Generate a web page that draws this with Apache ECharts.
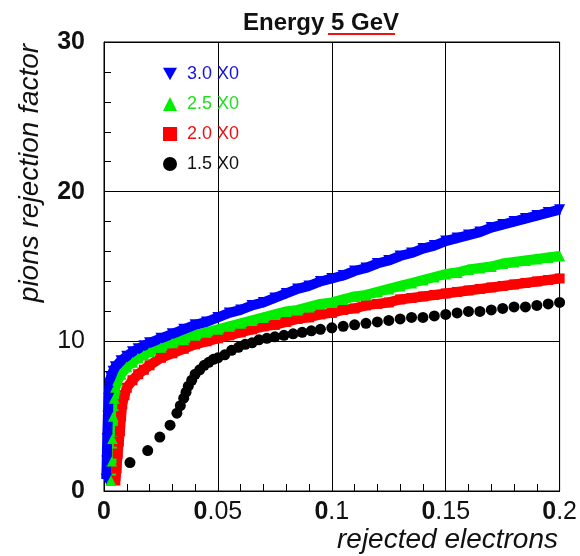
<!DOCTYPE html>
<html>
<head>
<meta charset="utf-8">
<script src="https://cdn.jsdelivr.net/npm/echarts@6/dist/echarts.min.js"></script>
<style>
html,body{margin:0;padding:0;background:#fff;}
#chart{width:580px;height:556px;}
</style>
</head>
<body>
<div id="chart"></div>
<script>
var titleText = 'Energy 5 GeV';
var xTitle = 'rejected electrons';
var yTitle = 'pions rejection factor';
var xTickLabels = ['0', '0.05', '0.1', '0.15', '0.2'];
var yTickLabels = ['0', '10', '20', '30'];
var seriesNames = ['3.0 X0', '2.5 X0', '2.0 X0', '1.5 X0'];

var blue30 = [[0.001,0.8],[0.0012,2],[0.0014,3.5],[0.0017,5],[0.002,6.2],[0.0025,7.2],[0.003,7.6],[0.004,8.0],[0.005,8.3],[0.0075,8.7],[0.01,9.0],[0.0125,9.3],[0.015,9.5],[0.0175,9.7],[0.02,9.9],[0.025,10.2],[0.03,10.5],[0.035,10.8],[0.04,11.1],[0.045,11.3],[0.05,11.6],[0.055,11.9],[0.06,12.1],[0.065,12.4],[0.07,12.6],[0.075,12.9],[0.08,13.2],[0.085,13.5],[0.09,13.7],[0.095,14.0],[0.1,14.2],[0.105,14.4],[0.11,14.7],[0.115,14.9],[0.12,15.2],[0.125,15.4],[0.13,15.7],[0.135,15.9],[0.14,16.2],[0.145,16.4],[0.15,16.7],[0.155,16.9],[0.16,17.1],[0.165,17.3],[0.17,17.6],[0.175,17.8],[0.18,18.0],[0.185,18.2],[0.19,18.4],[0.195,18.6],[0.2,18.8]];
var green25 = [[0.003,0.7],[0.0033,2],[0.0036,3.5],[0.004,5],[0.0045,6.2],[0.005,6.9],[0.006,7.4],[0.0075,7.8],[0.01,8.3],[0.0125,8.6],[0.015,8.9],[0.0175,9.1],[0.02,9.3],[0.025,9.6],[0.03,9.9],[0.035,10.1],[0.04,10.4],[0.045,10.6],[0.05,10.8],[0.055,11.0],[0.06,11.2],[0.065,11.4],[0.07,11.6],[0.075,11.8],[0.08,12.0],[0.085,12.1],[0.09,12.3],[0.095,12.5],[0.1,12.6],[0.105,12.8],[0.11,13.0],[0.115,13.1],[0.12,13.3],[0.125,13.5],[0.13,13.7],[0.135,13.9],[0.14,14.1],[0.145,14.3],[0.15,14.5],[0.155,14.6],[0.16,14.8],[0.165,14.9],[0.17,15.0],[0.175,15.2],[0.18,15.3],[0.185,15.4],[0.19,15.5],[0.195,15.6],[0.2,15.7]];
var red20 = [[0.005,0.7],[0.0055,1.5],[0.006,2.5],[0.0065,3.3],[0.007,4.0],[0.0075,5.0],[0.008,5.8],[0.009,6.4],[0.01,6.9],[0.0125,7.4],[0.015,7.8],[0.0175,8.1],[0.02,8.4],[0.025,8.9],[0.03,9.2],[0.035,9.5],[0.04,9.8],[0.045,10.0],[0.05,10.2],[0.055,10.4],[0.06,10.6],[0.065,10.8],[0.07,11.0],[0.075,11.1],[0.08,11.3],[0.085,11.5],[0.09,11.6],[0.095,11.8],[0.1,11.9],[0.105,12.1],[0.11,12.2],[0.115,12.4],[0.12,12.5],[0.125,12.6],[0.13,12.8],[0.135,12.9],[0.14,13.0],[0.145,13.1],[0.15,13.2],[0.155,13.3],[0.16,13.4],[0.165,13.5],[0.17,13.6],[0.175,13.7],[0.18,13.8],[0.185,13.9],[0.19,14.0],[0.195,14.1],[0.2,14.2]];
var black15 = [[0.0114,1.9],[0.0192,2.7],[0.0245,3.6],[0.029,4.4],[0.032,5.2],[0.0335,5.7],[0.035,6.2],[0.036,6.6],[0.037,7.0],[0.0385,7.4],[0.040,7.8],[0.042,8.1],[0.044,8.4],[0.046,8.6],[0.048,8.8],[0.050,8.9],[0.053,9.1],[0.056,9.4],[0.059,9.6],[0.062,9.8],[0.065,9.9],[0.068,10.1],[0.0715,10.2],[0.075,10.3],[0.079,10.4],[0.083,10.5],[0.087,10.6],[0.091,10.7],[0.095,10.8],[0.1,10.9],[0.105,11.0],[0.11,11.1],[0.115,11.2],[0.12,11.3],[0.125,11.4],[0.13,11.5],[0.135,11.6],[0.14,11.6],[0.145,11.7],[0.15,11.8],[0.155,11.9],[0.16,12.0],[0.165,12.0],[0.17,12.1],[0.175,12.2],[0.18,12.3],[0.185,12.3],[0.19,12.4],[0.195,12.5],[0.2,12.6]];

var FONT = '"Liberation Sans", Arial, sans-serif';
var chart = echarts.init(document.getElementById('chart'), null, {renderer: 'canvas'});

var downTri = 'path://M0,0 L10,0 L5,9 Z';

function bandSeries(name, data, color, symbol, size, rotate) {
  return {
    name: name, type: 'line', data: data,
    symbol: symbol, symbolSize: size, symbolRotate: rotate || 0,
    showAllSymbol: true,
    itemStyle: {color: color, opacity: 1},
    lineStyle: {color: color, width: 10},
    animation: false
  };
}

var option = {
  animation: false,
  backgroundColor: '#fff',
  title: {
    text: titleText, left: 316, top: 6, textAlign: 'center',
    textStyle: {fontFamily: FONT, fontSize: 24, fontWeight: 'bold', color: '#111'}
  },
  grid: {left: 104, right: 18, top: 42, bottom: 65, show: true, borderColor: '#000', borderWidth: 1, backgroundColor: 'transparent'},
  legend: {
    orient: 'vertical', left: 158, top: 60, itemWidth: 14, itemHeight: 14, itemGap: 12,
    selectedMode: false,
    textStyle: {fontFamily: FONT, fontSize: 18, padding: [0, 0, 0, 5]},
    data: [
      {name: seriesNames[0], icon: downTri, textStyle: {color: '#1515d8'}},
      {name: seriesNames[1], icon: 'triangle', textStyle: {color: '#22dd22'}},
      {name: seriesNames[2], icon: 'rect', textStyle: {color: '#ee1111'}},
      {name: seriesNames[3], icon: 'circle', textStyle: {color: '#111'}}
    ]
  },
  xAxis: {
    type: 'value', min: 0, max: 0.2, interval: 0.05,
    axisLine: {show: true, lineStyle: {color: '#000', width: 1}},
    axisTick: {show: true, inside: true, length: 10, lineStyle: {color: '#000'}},
    minorTick: {show: true, splitNumber: 5, length: 7, lineStyle: {color: '#000'}},
    splitLine: {show: true, lineStyle: {color: '#000', width: 1}},
    axisLabel: {
      margin: 9, color: '#111', fontFamily: FONT, fontSize: 25,
      formatter: function (v) {
        var i = Math.round(v / 0.05);
        var s = xTickLabels[i];
        return '{b|' + s.charAt(0) + '}{n|' + s.slice(1) + '}';
      },
      rich: {
        b: {fontFamily: FONT, fontSize: 25, fontWeight: 'bold', color: '#111'},
        n: {fontFamily: FONT, fontSize: 25, color: '#111'}
      }
    }
  },
  yAxis: {
    type: 'value', min: 0, max: 30, interval: 10,
    axisLine: {show: true, lineStyle: {color: '#000', width: 1}},
    axisTick: {show: true, inside: true, length: 10, lineStyle: {color: '#000'}},
    minorTick: {show: true, splitNumber: 5, length: 7, lineStyle: {color: '#000'}},
    splitLine: {show: true, lineStyle: {color: '#000', width: 1}},
    axisLabel: {
      margin: 19, color: '#111', fontFamily: FONT, fontSize: 25,
      formatter: function (v) {
        var s = yTickLabels[Math.round(v / 10)];
        return s === '10' ? '{n|' + s + '}' : '{b|' + s + '}';
      },
      rich: {
        b: {fontFamily: FONT, fontSize: 25, fontWeight: 'bold', color: '#111'},
        n: {fontFamily: FONT, fontSize: 25, color: '#111'}
      }
    }
  },
  graphic: [
    {type: 'line', shape: {x1: 328, y1: 34, x2: 395, y2: 34}, style: {stroke: '#ee1111', lineWidth: 2}},
    {type: 'text', x: 558, y: 540, style: {text: xTitle, font: 'italic 28px ' + FONT, fill: '#111', textAlign: 'right', textVerticalAlign: 'middle', align: 'right', verticalAlign: 'middle'}},
    {type: 'text', x: 30, y: 173, rotation: Math.PI / 2, style: {text: yTitle, font: 'italic 28px ' + FONT, fill: '#111', textAlign: 'center', textVerticalAlign: 'middle', align: 'center', verticalAlign: 'middle'}}
  ],
  series: [
    {
      name: seriesNames[3], type: 'scatter', data: black15, symbol: 'circle', symbolSize: 11,
      itemStyle: {color: '#000', opacity: 1}, animation: false
    },
    bandSeries(seriesNames[2], red20, '#ff0000', 'rect', 10),
    bandSeries(seriesNames[1], green25, '#00ee00', 'triangle', 11),
    bandSeries(seriesNames[0], blue30, '#0000ff', 'triangle', 11, 180)
  ]
};
chart.setOption(option);
</script>
</body>
</html>
